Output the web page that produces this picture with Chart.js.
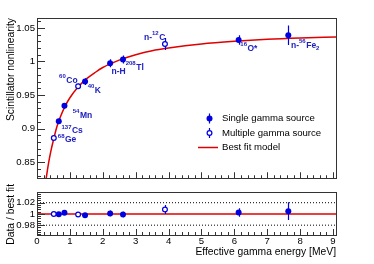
<!DOCTYPE html>
<html>
<head>
<meta charset="utf-8">
<script src="https://cdn.jsdelivr.net/npm/chart.js@4"></script>
<style>
  body { margin: 0; background: #fff; }
  #wrap { position: relative; width: 374px; height: 264px; }
  #wrap canvas { position: absolute; left: 0; }
</style>
</head>
<body>
<div id="wrap">
  <canvas id="topChart" width="374" height="186" style="top:0"></canvas>
  <canvas id="ratioChart" width="374" height="80" style="top:184px"></canvas>
</div>
<script>
// single gamma sources
const singleE = [0.662, 0.835, 1.461, 2.223, 2.614, 6.13, 7.64];
const singleVal = [0.911, 0.934, 0.970, 0.9975, 1.003, 1.032, 1.039];
const singleErr = [0.004, 0.004, 0.005, 0.006, 0.006, 0.007, 0.0145];
const singleRatio = [0.9995, 1.002, 0.9975, 1.001, 0.999, 1.0025, 1.005];
const singleRatioErr = [0.003, 0.003, 0.004, 0.005, 0.005, 0.0075, 0.016];

// multiple gamma sources
const multiE = [0.511, 1.25, 3.89];
const multiVal = [0.886, 0.963, 1.026];
const multiErr = [0.003, 0.004, 0.009];
const multiRatio = [1.000, 0.999, 1.008];
const multiRatioErr = [0.002, 0.003, 0.008];

// best fit model
const fitE = [0.28, 0.35, 0.42, 0.5, 0.6, 0.7, 0.85, 1.0, 1.25, 1.5, 1.75, 2.0, 2.5, 3.0, 3.5, 4.0, 5.0, 6.0, 7.0, 8.0, 9.09];
const fitVal = [0.826, 0.848, 0.866, 0.883, 0.902, 0.916, 0.933, 0.946, 0.962, 0.974, 0.983, 0.991, 1.002, 1.010, 1.016, 1.020, 1.026, 1.030, 1.033, 1.035, 1.0365];

const xTicks = [0, 1, 2, 3, 4, 5, 6, 7, 8, 9];
const xTickLabels = ['0', '1', '2', '3', '4', '5', '6', '7', '8', '9'];
const yTicksTop = [0.85, 0.9, 0.95, 1, 1.05];
const yTickLabelsTop = ['0.85', '0.9', '0.95', '1', '1.05'];
const yTicksRatio = [0.98, 1, 1.02];
const yTickLabelsRatio = ['0.98', '1', '1.02'];

const legendLabels = ['Single gamma source', 'Multiple gamma source', 'Best fit model'];
const xTitle = 'Effective gamma energy [MeV]';
const yTitleTop = 'Scintillator nonlinearity';
const yTitleRatio = 'Data / best fit';

// source names: [dataset, index, parts]  (parts: text, sup, sub)
const sourceLabels = [
  ['multi', 0, [['68', 'sup'], ['Ge']]],
  ['single', 0, [['137', 'sup'], ['Cs']]],
  ['single', 1, [['54', 'sup'], ['Mn']]],
  ['multi', 1, [['60', 'sup'], ['Co']]],
  ['single', 2, [['40', 'sup'], ['K']]],
  ['single', 3, [['n-H']]],
  ['single', 4, [['208', 'sup'], ['Tl']]],
  ['multi', 2, [['n-'], ['12', 'sup'], ['C']]],
  ['single', 5, [['16', 'sup'], ['O*']]],
  ['single', 6, [['n-'], ['56', 'sup'], ['Fe'], ['2', 'sub']]]
];
// where each name sits relative to its marker (px)
const labelOffsets = [[4, 2], [2.7, 9.7], [8.3, 9.7], [-19, -6], [2.6, 8.7], [1.4, 8.3], [2.7, 8], [-21, -6.7], [1.7, 8.3], [2.7, 10]];

const BLUE = '#0000e0';
const TEXTBLUE = '#2020c0';
const RED = '#e00000';
const FONT = '"Liberation Sans", Arial, sans-serif';
const XMAX = 9.09;

const pts = (xs, ys) => xs.map((x, i) => ({x: x, y: ys[i]}));

function errorBars(chart, dsIndex, errs) {
  const ctx = chart.ctx;
  const data = chart.data.datasets[dsIndex].data;
  const xs = chart.scales.x, ys = chart.scales.y;
  ctx.save();
  ctx.beginPath();
  ctx.rect(chart.chartArea.left, chart.chartArea.top, chart.chartArea.right - chart.chartArea.left, chart.chartArea.bottom - chart.chartArea.top);
  ctx.clip();
  ctx.strokeStyle = BLUE;
  ctx.lineWidth = 1.2;
  data.forEach((p, i) => {
    const px = Math.round(xs.getPixelForValue(p.x)) + 0.5;
    ctx.beginPath();
    ctx.moveTo(px, ys.getPixelForValue(p.y - errs[i]));
    ctx.lineTo(px, ys.getPixelForValue(p.y + errs[i]));
    ctx.stroke();
  });
  ctx.restore();
}

function frameAndTicks(chart, yMajor, yMinorStep, yMajorLen) {
  const ctx = chart.ctx;
  const a = chart.chartArea;
  const xs = chart.scales.x, ys = chart.scales.y;
  ctx.save();
  ctx.strokeStyle = '#333';
  ctx.lineWidth = 1;
  ctx.beginPath();
  // left axis ticks
  const y0 = ys.min, y1 = ys.max;
  for (let v = Math.ceil(y0 / yMinorStep) * yMinorStep; v <= y1 + 1e-9; v += yMinorStep) {
    const py = Math.round(ys.getPixelForValue(v)) + 0.5;
    const major = yMajor.some(m => Math.abs(m - v) < yMinorStep / 10);
    ctx.moveTo(a.left, py);
    ctx.lineTo(a.left + (major ? yMajorLen : yMajorLen / 2), py);
  }
  // bottom axis ticks
  for (let v = 0; v <= XMAX + 1e-9; v += 0.2) {
    const px = Math.round(xs.getPixelForValue(v)) + 0.5;
    const major = Math.abs(v - Math.round(v)) < 0.01;
    ctx.moveTo(px, a.bottom);
    ctx.lineTo(px, a.bottom - (major ? 6 : 3));
  }
  ctx.stroke();
  ctx.strokeRect(Math.round(a.left) + 0.5, Math.round(a.top) + 0.5, Math.round(a.right - a.left), Math.round(a.bottom - a.top));
  ctx.restore();
}

function drawRich(ctx, parts, x, y) {
  parts.forEach(([t, kind]) => {
    if (kind === 'sup') {
      ctx.font = 'bold 6px ' + FONT;
      ctx.fillText(t, x, y - 4);
    } else if (kind === 'sub') {
      ctx.font = 'bold 6px ' + FONT;
      ctx.fillText(t, x, y + 3);
    } else {
      ctx.font = 'bold 8.5px ' + FONT;
      ctx.fillText(t, x, y);
    }
    x += ctx.measureText(t).width + (kind ? 0.5 : 0);
  });
}

const topPlugin = {
  id: 'topDecor',
  beforeDatasetDraw(chart, args) {
    if (args.index === 1) errorBars(chart, 1, singleErr);
    if (args.index === 2) errorBars(chart, 2, multiErr);
  },
  afterDraw(chart) {
    const ctx = chart.ctx;
    frameAndTicks(chart, yTicksTop, 0.01, 8);
    // source names
    ctx.save();
    ctx.fillStyle = TEXTBLUE;
    ctx.textBaseline = 'middle';
    ctx.textAlign = 'left';
    sourceLabels.forEach(([ds, i, parts], k) => {
      const meta = chart.getDatasetMeta(ds === 'single' ? 1 : 2);
      const el = meta.data[i];
      drawRich(ctx, parts, el.x + labelOffsets[k][0], el.y + labelOffsets[k][1]);
    });
    ctx.restore();
    // legend
    ctx.save();
    ctx.font = '9.6px ' + FONT;
    ctx.fillStyle = '#000';
    ctx.textBaseline = 'middle';
    const lx = 209, ly = [118.5, 133, 147.5];
    ctx.fillText(legendLabels[0], 222, ly[0]);
    ctx.fillText(legendLabels[1], 222, ly[1]);
    ctx.fillText(legendLabels[2], 222, ly[2]);
    ctx.strokeStyle = BLUE;
    ctx.lineWidth = 1.2;
    ctx.beginPath();
    ctx.moveTo(lx + 0.5, ly[0] - 5); ctx.lineTo(lx + 0.5, ly[0] + 5);
    ctx.moveTo(lx + 0.5, ly[1] - 5); ctx.lineTo(lx + 0.5, ly[1] + 5);
    ctx.stroke();
    ctx.fillStyle = BLUE;
    ctx.beginPath(); ctx.arc(lx + 0.5, ly[0], 3, 0, Math.PI * 2); ctx.fill();
    ctx.fillStyle = '#fff';
    ctx.beginPath(); ctx.arc(lx + 0.5, ly[1], 2.4, 0, Math.PI * 2); ctx.fill(); ctx.stroke();
    ctx.strokeStyle = RED;
    ctx.lineWidth = 1.5;
    ctx.beginPath(); ctx.moveTo(198, ly[2]); ctx.lineTo(218, ly[2]); ctx.stroke();
    // y title
    ctx.fillStyle = '#000';
    ctx.font = '10.3px ' + FONT;
    ctx.translate(11, 18);
    ctx.rotate(-Math.PI / 2);
    ctx.textAlign = 'right';
    ctx.fillText(yTitleTop, 0, 0);
    ctx.restore();
  }
};

const ratioPlugin = {
  id: 'ratioDecor',
  beforeDatasetDraw(chart, args) {
    if (args.index === 3) errorBars(chart, 3, singleRatioErr);
    if (args.index === 4) errorBars(chart, 4, multiRatioErr);
  },
  afterDraw(chart) {
    const ctx = chart.ctx;
    frameAndTicks(chart, yTicksRatio, 0.004, 8);
    ctx.save();
    ctx.fillStyle = '#000';
    ctx.font = '10.3px ' + FONT;
    ctx.textBaseline = 'middle';
    ctx.textAlign = 'right';
    ctx.fillText(xTitle, chart.chartArea.right, 68);
    ctx.translate(11, 0);
    ctx.rotate(-Math.PI / 2);
    ctx.fillText(yTitleRatio, 0, 0);
    ctx.restore();
  }
};

const tickFont = {family: FONT, size: 9.6};

new Chart(document.getElementById('topChart'), {
  type: 'scatter',
  data: {
    datasets: [
      {type: 'line', data: pts(fitE, fitVal), borderColor: RED, borderWidth: 1.5, pointRadius: 0, cubicInterpolationMode: 'monotone', fill: false, order: 3},
      {data: pts(singleE, singleVal), pointRadius: 3, pointBackgroundColor: BLUE, pointBorderColor: BLUE, pointBorderWidth: 0, order: 1},
      {data: pts(multiE, multiVal), pointRadius: 2.4, pointBackgroundColor: '#fff', pointBorderColor: BLUE, pointBorderWidth: 1.2, order: 2}
    ]
  },
  options: {
    responsive: false,
    animation: false,
    devicePixelRatio: 1,
    layout: {padding: {top: 18, right: 38, left: 0, bottom: 0}},
    plugins: {legend: {display: false}, tooltip: {enabled: false}},
    scales: {
      x: {type: 'linear', min: 0, max: XMAX, ticks: {display: false}, grid: {display: false, drawTicks: false}, border: {display: false},
          afterFit: s => { s.height = 2; }},
      y: {min: 0.826, max: 1.0648,
          afterBuildTicks: s => { s.ticks = yTicksTop.map(v => ({value: v})); },
          ticks: {callback: (v, i) => yTickLabelsTop[i], font: tickFont, color: '#000', padding: 2},
          grid: {display: false, drawTicks: false}, border: {display: false},
          afterFit: s => { s.width = 37; }}
    }
  },
  plugins: [topPlugin]
});

new Chart(document.getElementById('ratioChart'), {
  type: 'scatter',
  data: {
    datasets: [
      {type: 'line', data: pts([0, XMAX], [1, 1]), borderColor: RED, borderWidth: 1.5, pointRadius: 0, order: 3},
      {type: 'line', data: pts([0, XMAX], [1.02, 1.02]), borderColor: '#000', borderWidth: 1, borderDash: [1, 2], pointRadius: 0, order: 4},
      {type: 'line', data: pts([0, XMAX], [0.98, 0.98]), borderColor: '#000', borderWidth: 1, borderDash: [1, 2], pointRadius: 0, order: 4},
      {data: pts(singleE, singleRatio), pointRadius: 3, pointBackgroundColor: BLUE, pointBorderColor: BLUE, pointBorderWidth: 0, order: 1},
      {data: pts(multiE, multiRatio), pointRadius: 2.4, pointBackgroundColor: '#fff', pointBorderColor: BLUE, pointBorderWidth: 1.2, order: 2}
    ]
  },
  options: {
    responsive: false,
    animation: false,
    devicePixelRatio: 1,
    layout: {padding: {top: 1, right: 38, left: 0, bottom: 0}},
    plugins: {legend: {display: false}, tooltip: {enabled: false}},
    scales: {
      x: {type: 'linear', min: 0, max: XMAX,
          afterBuildTicks: s => { s.ticks = xTicks.map(v => ({value: v})); },
          ticks: {callback: (v, i) => xTickLabels[i], font: tickFont, color: '#000', padding: 1, autoSkip: false, maxRotation: 0},
          grid: {display: false, drawTicks: false}, border: {display: false},
          afterFit: s => { s.height = 29; }},
      y: {min: 0.9625, max: 1.0395,
          afterBuildTicks: s => { s.ticks = yTicksRatio.map(v => ({value: v})); },
          ticks: {callback: (v, i) => yTickLabelsRatio[i], font: tickFont, color: '#000', padding: 2},
          grid: {display: false, drawTicks: false}, border: {display: false},
          afterFit: s => { s.width = 37; }}
    }
  },
  plugins: [ratioPlugin]
});
</script>
</body>
</html>
